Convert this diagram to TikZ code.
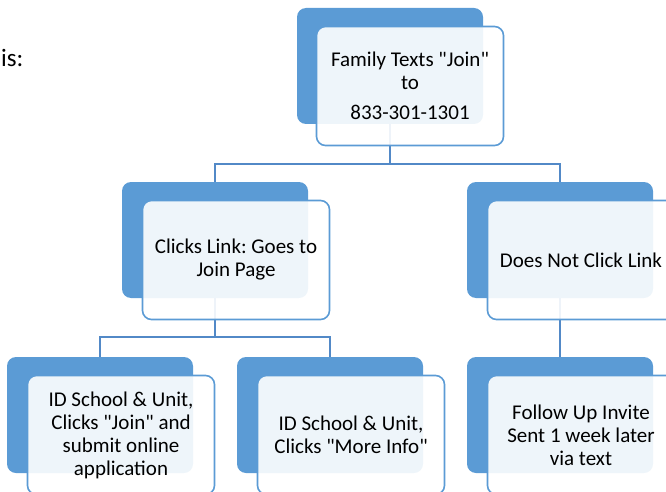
\documentclass[tikz,border=0pt]{standalone}
\usepackage{fontspec}
\setmainfont{Carlito}[Ligatures=TeXOff]
\usepackage{xcolor}
\usepackage{tikz}
\usetikzlibrary{calc}
\definecolor{accent}{HTML}{5B9BD5}
\definecolor{link}{HTML}{5289C7}
\definecolor{ink}{HTML}{000000}
\tikzset{
  back/.style={rectangle, rounded corners=9pt, fill=accent, minimum width=186pt, minimum height=116pt, inner sep=0pt},
  front/.style={rectangle, rounded corners=9pt, draw=accent, line width=1.6pt, fill=white, fill opacity=0.9, text opacity=1, minimum width=187pt, minimum height=119pt, inner sep=0pt, align=center, text=ink, font=\fontsize{21}{23}\selectfont},
  link/.style={draw=link, line width=1.8pt},
  lab/.style={text=ink, font=\fontsize{25}{28}\selectfont, inner sep=0pt},
}
\frenchspacing

\begin{document}
\begin{tikzpicture}[x=1pt,y=-1pt]
  \useasboundingbox (0,0) rectangle (666,492);
  \clip (0,0) rectangle (666,492);

  \node[lab,anchor=base west] (intro) at (1,67) {is:};

  \node[back] (famB) at (390,66) {};
  \node[back] (clickB) at (215,240) {};
  \node[back] (noclickB) at (560,240) {};
  \node[back] (joinB) at (100,415) {};
  \node[back] (infoB) at (330,415) {};
  \node[back] (followB) at (560,415) {};

  \draw[link] (famB.south) -- ++(0,40) -| (clickB.north);
  \draw[link] (famB.south) -- ++(0,40) -| (noclickB.north);
  \draw[link] (clickB.south) -- ++(0,39) -| (joinB.north);
  \draw[link] (clickB.south) -- ++(0,39) -| (infoB.north);
  \draw[link] (noclickB.south) -- (followB.north);

  \node[front] (famF) at ($(famB.center)+(20,20)$) {Family Texts "Join"\\ to\\[7pt] 833-301-1301};
  \node[front] (clickF) at ($(clickB.center)+(21,20)$) {Clicks Link: Goes to\\ Join Page};
  \node[front] (noclickF) at ($(noclickB.center)+(21,20)$) {Does Not Click Link};
  \node[front] (joinF) at ($(joinB.center)+(21,20)$) {ID School \& Unit,\\ Clicks "Join" and\\ submit online\\ application};
  \node[front] (infoF) at ($(infoB.center)+(21,20)$) {ID School \& Unit,\\ Clicks "More Info"};
  \node[front] (followF) at ($(followB.center)+(21,20)$) {Follow Up Invite\\ Sent 1 week later\\ via text};
\end{tikzpicture}
\end{document}
